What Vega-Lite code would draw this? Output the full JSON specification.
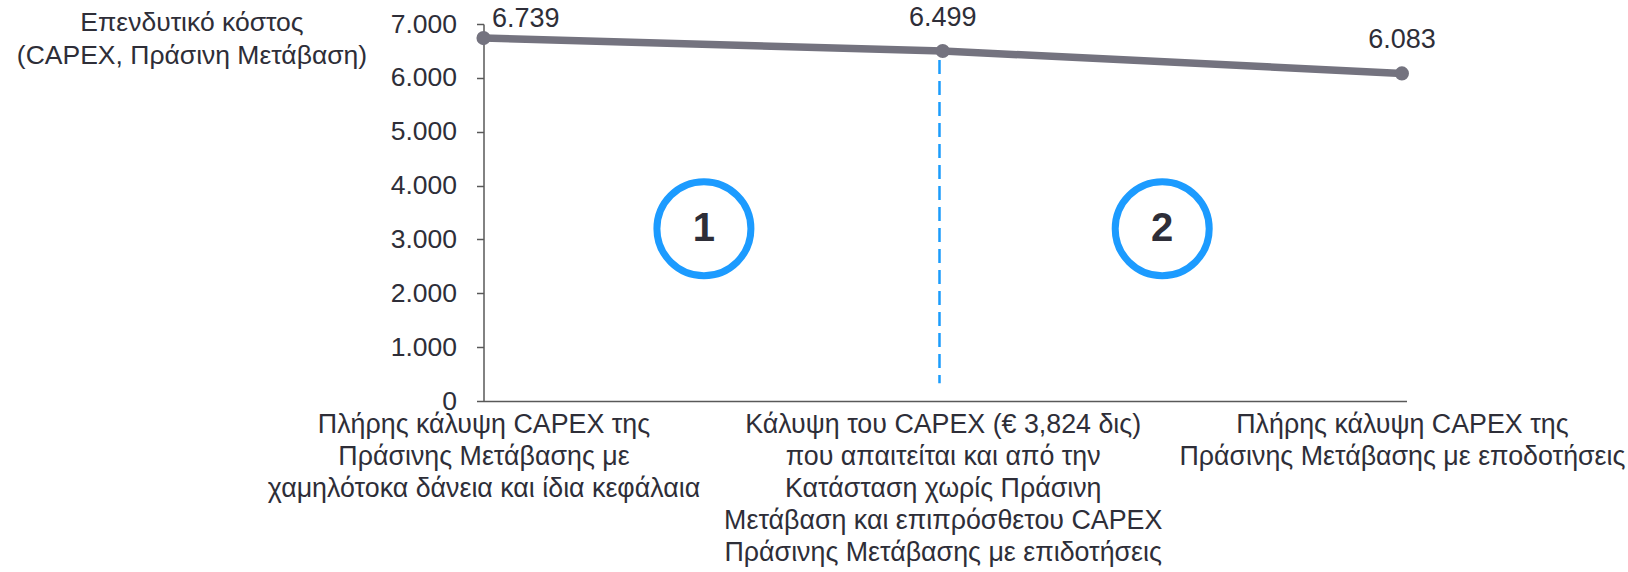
{
  "$schema": "https://vega.github.io/schema/vega-lite/v6.json",
  "width": 923,
  "height": 377,
  "autosize": {"type": "none"},
  "padding": {"left": 483.5, "top": 24, "right": 221.5, "bottom": 171},
  "config": {
    "view": {"stroke": null},
    "font": "Liberation Sans",
    "locale": {"number": {"decimal": ",", "thousands": ".", "grouping": [3], "currency": ["", " €"]}}
  },
  "datasets": {
    "points": [
      {"x": 0, "y": 6739},
      {"x": 1, "y": 6499},
      {"x": 2, "y": 6083}
    ],
    "divider": [
      {"x": 0.993, "y": 6330, "y2": 330}
    ],
    "markers": [
      {"x": 0.48, "y": 3200, "num": "1"},
      {"x": 1.478, "y": 3200, "num": "2"}
    ]
  },
  "encoding": {
    "x": {
      "field": "x",
      "type": "quantitative",
      "scale": {"domain": [0, 2.01], "nice": false, "zero": false},
      "axis": {
        "title": null,
        "values": [0, 1, 2],
        "ticks": false,
        "grid": false,
        "domainColor": "#595959",
        "domainWidth": 1.5,
        "labelExpr": "datum.value == 0 ? ['Πλήρης κάλυψη CAPEX της', 'Πράσινης Μετάβασης με', 'χαμηλότοκα δάνεια και ίδια κεφάλαια'] : datum.value == 1 ? ['Κάλυψη του CAPEX (€ 3,824 δις)', 'που απαιτείται και από την', 'Κατάσταση χωρίς Πράσινη', 'Μετάβαση και επιπρόσθετου CAPEX', 'Πράσινης Μετάβασης με επιδοτήσεις'] : ['Πλήρης κάλυψη CAPEX της', 'Πράσινης Μετάβασης με εποδοτήσεις']",
        "labelFontSize": 26.8,
        "labelLineHeight": 32,
        "labelPadding": 10,
        "labelLimit": 0,
        "labelColor": "#2e2e38",
        "labelBaseline": "top",
        "labelOverlap": false,
        "labelBound": false,
        "labelFlush": false
      }
    },
    "y": {
      "field": "y",
      "type": "quantitative",
      "scale": {"domain": [0, 7000], "nice": false},
      "axis": {
        "values": [0, 1000, 2000, 3000, 4000, 5000, 6000, 7000],
        "format": ",d",
        "grid": false,
        "domainColor": "#595959",
        "domainWidth": 1.5,
        "tickColor": "#595959",
        "tickSize": 7,
        "tickWidth": 1.5,
        "labelFontSize": 26.5,
        "labelColor": "#2e2e38",
        "labelPadding": 20,
        "title": ["Επενδυτικό κόστος", "(CAPEX, Πράσινη Μετάβαση)"],
        "titleAngle": 0,
        "titleAlign": "center",
        "titleBaseline": "top",
        "titleX": -292,
        "titleY": -15,
        "titleFontSize": 26.5,
        "titleFontWeight": "normal",
        "titleColor": "#2e2e38",
        "titleLineHeight": 33
      }
    }
  },
  "layer": [
    {
      "data": {"name": "divider"},
      "mark": {"type": "rule", "color": "#1b9cfc", "strokeWidth": 2.5, "strokeDash": [14, 7]},
      "encoding": {"y2": {"field": "y2"}}
    },
    {
      "data": {"name": "points"},
      "mark": {"type": "line", "color": "#74737f", "strokeWidth": 7.5},
      "encoding": {}
    },
    {
      "data": {"name": "points"},
      "mark": {"type": "circle", "size": 200, "color": "#74737f", "opacity": 1},
      "encoding": {}
    },
    {
      "data": {"name": "points"},
      "transform": [{"filter": "datum.x == 0"}],
      "mark": {"type": "text", "align": "left", "baseline": "alphabetic", "dx": 8.5, "dy": -11, "fontSize": 27, "color": "#2e2e38"},
      "encoding": {"text": {"field": "y", "type": "quantitative", "format": ",d"}}
    },
    {
      "data": {"name": "points"},
      "transform": [{"filter": "datum.x > 0"}],
      "mark": {"type": "text", "align": "center", "baseline": "alphabetic", "dy": -25, "fontSize": 27, "color": "#2e2e38"},
      "encoding": {"text": {"field": "y", "type": "quantitative", "format": ",d"}}
    },
    {
      "data": {"name": "markers"},
      "mark": {"type": "point", "shape": "circle", "size": 8836, "filled": false, "stroke": "#1c9bff", "strokeWidth": 7, "opacity": 1},
      "encoding": {}
    },
    {
      "data": {"name": "markers"},
      "mark": {"type": "text", "align": "center", "baseline": "middle", "fontSize": 40, "fontWeight": "bold", "color": "#2e2e38"},
      "encoding": {"text": {"field": "num", "type": "nominal"}}
    }
  ]
}
